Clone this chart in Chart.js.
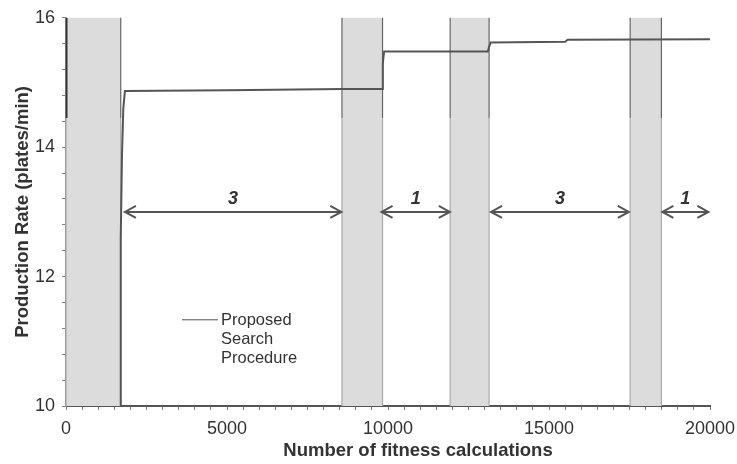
<!DOCTYPE html>
<html>
<head>
<meta charset="utf-8">
<script src="https://cdn.jsdelivr.net/npm/chart.js@4/dist/chart.umd.min.js"></script>
<style>
  html, body { margin: 0; padding: 0; background: #fff; }
  #wrap { width: 737px; height: 464px; }
</style>
</head>
<body>
<div id="wrap"><canvas id="rateChart" width="737" height="464"></canvas></div>
<script>
// search trace (fitness calculations, production rate)
const traceX = [1690, 1700, 1740, 1780, 1830, 5000, 8600, 9820, 9840, 9880, 13100, 13140, 13190, 15500, 15580, 20000];
const traceY = [10.0, 12.6, 13.9, 14.6, 14.87, 14.88, 14.9, 14.9, 15.3, 15.48, 15.48, 15.55, 15.62, 15.63, 15.66, 15.67];

// initial segment sitting on the y axis
const initX = [0, 0];
const initY = [16.0, 14.45];

// shaded intervals
const bandStart = [0, 8570, 11930, 17520];
const bandEnd = [1700, 9830, 13140, 18490];

// arrow intervals with their labels
const arrowStart = [1830, 9800, 13200, 18520];
const arrowEnd = [8550, 11920, 17480, 19950];
const arrowLabel = ['3', '1', '3', '1'];
const arrowLevel = 13.0;

const FONT = '"Liberation Sans", Arial, sans-serif';

const toPoints = (xs, ys) => xs.map((x, i) => ({ x: x, y: ys[i] }));

const decorPlugin = {
  id: 'decor',
  beforeDatasetsDraw(chart) {
    const { ctx, scales: { x, y } } = chart;
    const top = y.getPixelForValue(16);
    const bottom = y.getPixelForValue(10);
    const split = y.getPixelForValue(14.45);
    ctx.save();
    bandStart.forEach((s, i) => {
      const l = x.getPixelForValue(s);
      const r = x.getPixelForValue(bandEnd[i]);
      ctx.fillStyle = '#dcdcdc';
      ctx.fillRect(l, top, r - l, bottom - top);
      [l, r].forEach(px => {
        ctx.lineWidth = 1.2;
        ctx.strokeStyle = '#666';
        ctx.beginPath(); ctx.moveTo(px, top); ctx.lineTo(px, split); ctx.stroke();
        ctx.strokeStyle = '#aaa';
        ctx.beginPath(); ctx.moveTo(px, split); ctx.lineTo(px, bottom); ctx.stroke();
      });
    });
    ctx.restore();
  },
  afterDatasetsDraw(chart) {
    const { ctx, chartArea, scales: { x, y } } = chart;
    ctx.save();
    const ay = y.getPixelForValue(arrowLevel);
    arrowStart.forEach((s, i) => {
      const l = x.getPixelForValue(s);
      const r = x.getPixelForValue(arrowEnd[i]);
      ctx.strokeStyle = '#555';
      ctx.lineWidth = 2;
      ctx.beginPath(); ctx.moveTo(l, ay); ctx.lineTo(r, ay); ctx.stroke();
      ctx.beginPath();
      ctx.moveTo(l + 11, ay - 6); ctx.lineTo(l, ay); ctx.lineTo(l + 11, ay + 6);
      ctx.moveTo(r - 11, ay - 6); ctx.lineTo(r, ay); ctx.lineTo(r - 11, ay + 6);
      ctx.stroke();
      ctx.fillStyle = '#333';
      ctx.font = 'italic bold 18px ' + FONT;
      ctx.textAlign = 'center';
      ctx.textBaseline = 'bottom';
      ctx.fillText(arrowLabel[i], (l + r) / 2, ay - 4);
    });

    // legend
    const lx = chartArea.left + 116;
    const ly = chartArea.top + 302;
    ctx.strokeStyle = '#555';
    ctx.lineWidth = 1;
    ctx.beginPath(); ctx.moveTo(lx, ly); ctx.lineTo(lx + 36, ly); ctx.stroke();
    ctx.fillStyle = '#333';
    ctx.font = '16.5px ' + FONT;
    ctx.textAlign = 'left';
    ctx.textBaseline = 'middle';
    ['Proposed', 'Search', 'Procedure'].forEach((t, i) => ctx.fillText(t, lx + 39, ly + 1 + i * 19));

    // x axis title, sits a little right of the plot centre in the original
    ctx.font = 'bold 18.5px ' + FONT;
    ctx.textAlign = 'center';
    ctx.textBaseline = 'alphabetic';
    ctx.fillText('Number of fitness calculations', (chartArea.left + chartArea.right) / 2 + 30, chart.height - 8);
    ctx.restore();
  }
};

new Chart(document.getElementById('rateChart'), {
  type: 'line',
  data: {
    datasets: [
      {
        label: 'Proposed Search Procedure',
        data: toPoints(traceX, traceY),
        borderColor: '#555',
        borderWidth: 2,
        pointRadius: 0,
        tension: 0
      },
      {
        label: 'initial',
        data: toPoints(initX, initY),
        borderColor: '#333',
        borderWidth: 3,
        pointRadius: 0
      }
    ]
  },
  options: {
    responsive: false,
    animation: false,
    layout: { padding: { top: 16, right: 27, left: 0, bottom: 0 } },
    plugins: { legend: { display: false }, tooltip: { enabled: false } },
    scales: {
      x: {
        type: 'linear',
        min: 0,
        max: 20000,
        afterFit: s => { s.height = 58; s.paddingLeft = 0; s.paddingRight = 0; },
        border: { color: '#555', width: 2 },
        grid: { drawOnChartArea: false, tickLength: 4, color: '#777' },
        ticks: {
          stepSize: 500,
          autoSkip: false,
          maxRotation: 0,
          padding: 8,
          color: '#333',
          font: { size: 18, family: FONT },
          callback: v => (v % 5000 === 0 ? String(v) : '')
        },
        title: { display: false }
      },
      y: {
        min: 10,
        max: 16,
        afterFit: s => { s.width = 66; },
        border: { color: '#888', width: 1.5 },
        grid: { drawOnChartArea: false, tickLength: 4, color: '#888' },
        ticks: {
          stepSize: 0.4,
          autoSkip: false,
          padding: 7,
          color: '#333',
          font: { size: 18, family: FONT },
          callback: v => {
            const r = Math.round(v);
            return Math.abs(v - r) < 1e-6 && r % 2 === 0 ? String(r) : '';
          }
        },
        title: {
          display: true,
          text: 'Production Rate (plates/min)',
          color: '#333',
          font: { size: 18.5, weight: 'bold', family: FONT },
          padding: { top: 12, bottom: 0 }
        }
      }
    }
  },
  plugins: [decorPlugin]
});
</script>
</body>
</html>
